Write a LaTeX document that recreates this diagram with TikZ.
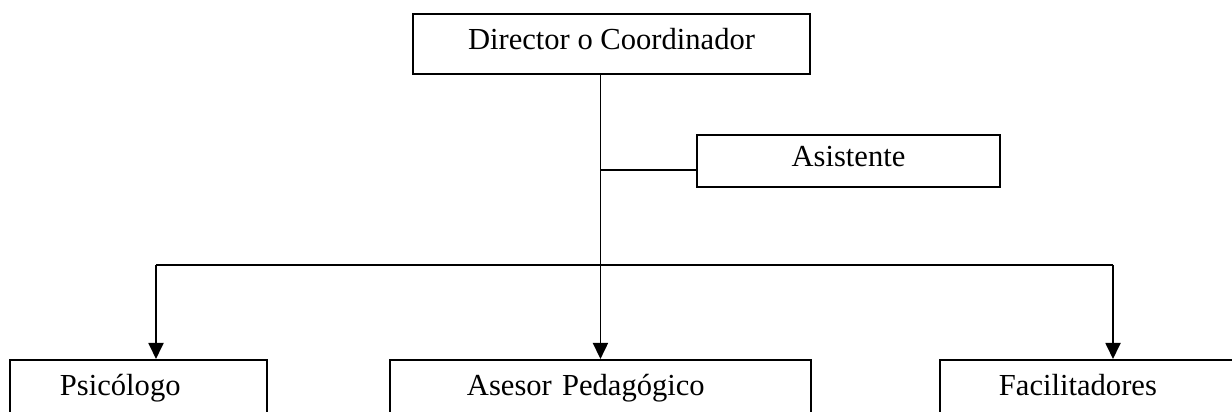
\documentclass[tikz,border=0pt]{standalone}
\usepackage{fontspec}
\setmainfont{Liberation Serif}
\usetikzlibrary{arrows.meta}

\begin{document}
\begin{tikzpicture}[
  >={Triangle[width=0.3cm,length=0.32cm]},
  orgbox/.style={draw, line width=1.1pt, minimum height=1.2cm, inner ysep=0pt,
    font=\fontsize{17.4}{20}\selectfont, text height=0.62em, text depth=0pt},
  leftbox/.style={orgbox, anchor=north west, align=left},
  link/.style={line width=1.05pt},
]

\useasboundingbox (0,0) rectangle (24.64,8.24);
\clip (0,0) rectangle (24.64,8.24);

\node [orgbox, minimum width=7.94cm] (dir) at (12.23,7.36) {Director o Coordinador};
\node [orgbox, minimum width=6.06cm, minimum height=1.04cm] (asis) at (16.97,5.02) {Asistente};

\node [leftbox, inner xsep=1.0cm, text width=3.14cm] (psic) at (0.18,1.06) {Psicólogo};
\node [leftbox, inner xsep=1.54cm, text width=5.34cm] (ases) at (7.78,1.06) {Asesor Pedagógico};
\node [leftbox, inner xsep=1.18cm, text width=4.66cm] (facil) at (18.78,1.06) {Facilitadores};

\coordinate (asisjoin) at (12.0,4.84);
\coordinate (barL) at (3.12,2.94);
\coordinate (barR) at (22.26,2.94);

\draw [link, ->] (dir.south -| ases.north) -- (ases.north);
\draw [link] (asisjoin) -- (asisjoin -| asis.west);
\draw [link] (barL) -- (barR);
\draw [link, ->] (barL) -- (barL |- psic.north);
\draw [link, ->] (barR) -- (barR |- facil.north);

\end{tikzpicture}
\end{document}
